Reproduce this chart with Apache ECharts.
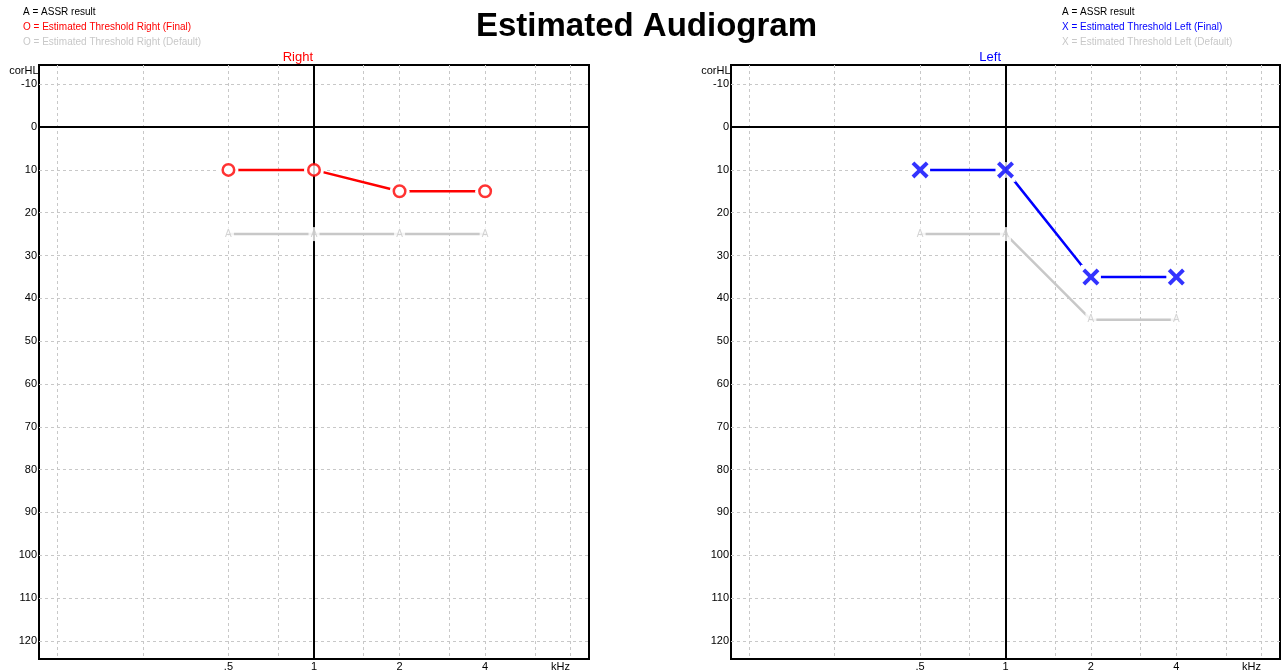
<!DOCTYPE html>
<html><head><meta charset="utf-8">
<script src="https://cdn.jsdelivr.net/npm/echarts@6/dist/echarts.min.js"></script>
<style>html,body{margin:0;padding:0;background:#fff}#c{width:1282px;height:672px}</style>
</head><body><div id="c"></div>
<script>
// ---- data ----
const freqs = [500, 1000, 2000, 4000];            // Hz
const freqLabels = ['.5', '1', '2', '4'];
const rightFinal = [10, 10, 15, 15];              // dB corHL (O)
const rightDefault = [25, 25, 25, 25];            // dB corHL (A, grey)
const leftFinal = [10, 10, 35, 35];               // dB corHL (X)
const leftDefault = [25, 25, 45, 45];             // dB corHL (A, grey)
const gridFreqs = [125, 250, 500, 750, 1000, 1500, 2000, 3000, 4000, 6000, 8000];
const dbTicks = [-10, 0, 10, 20, 30, 40, 50, 60, 70, 80, 90, 100, 110, 120];
const unitLabel = 'kHz';

// ---- helpers ----
const oct = f => Math.log2(f / 1000);   // octaves relative to 1 kHz
const KHZ_POS = 2.88;
const FONT = '"Liberation Sans", Arial, sans-serif';
const RED = '#ff0000', BLUE = '#0000ff', GREY = '#c8c8c8';
const X_PATH = 'path://M0,2.6L2.6,0L8,5.4L13.4,0L16,2.6L10.6,8L16,13.4L13.4,16L8,10.6L2.6,16L0,13.4L5.4,8Z';

const labelMap = {};
freqs.forEach((f, i) => { labelMap[oct(f).toFixed(3)] = freqLabels[i]; });
labelMap[KHZ_POS.toFixed(3)] = unitLabel;

const pts = vals => freqs.map((f, i) => [oct(f), vals[i]]);

function xAxis(idx) {
  return {
    gridIndex: idx, type: 'value', min: -3.214, max: 3.214,
    axisLine: {show: false}, axisTick: {show: false}, splitLine: {show: false},
    axisLabel: {
      customValues: freqs.map(oct).concat([KHZ_POS]),
      formatter: v => labelMap[Number(v).toFixed(3)] || '',
      margin: 2, fontSize: 11, color: '#000', fontFamily: FONT
    }
  };
}
function yAxis(idx) {
  return {
    gridIndex: idx, type: 'value', inverse: true, min: -14.5, max: 124.25,
    axisLine: {show: false}, axisTick: {show: false}, splitLine: {show: false},
    axisLabel: {customValues: dbTicks, margin: 2, fontSize: 11, color: '#000', fontFamily: FONT}
  };
}

function earSeries(idx, finalVals, defVals, color, isLeft) {
  const base = {xAxisIndex: idx, yAxisIndex: idx, animation: false, silent: true};
  const list = [];
  // dashed grid
  list.push(Object.assign({}, base, {
    type: 'line', data: [], z: 1,
    markLine: {
      z: 1, silent: true, symbol: ['none', 'none'], label: {show: false}, animation: false,
      lineStyle: {color: GREY, type: [3, 3], width: 1},
      data: gridFreqs.map(f => ({xAxis: oct(f)})).concat(dbTicks.map(d => ({yAxis: d})))
    }
  }));
  // default line (grey)
  list.push(Object.assign({}, base, {
    type: 'line', data: pts(defVals), symbol: 'none', z: 2,
    lineStyle: {color: GREY, width: 2.5}
  }));
  // final line
  list.push(Object.assign({}, base, {
    type: 'line', data: pts(finalVals), symbol: 'none', z: 2,
    lineStyle: {color: color, width: 2.5}
  }));
  // masks creating gaps in lines around final markers
  list.push(Object.assign({}, base, {
    type: 'scatter', data: pts(finalVals),
    symbol: isLeft ? 'rect' : 'circle', symbolSize: isLeft ? [20, 24] : 20, z: 3,
    itemStyle: {color: '#fff', opacity: 1}
  }));
  // reference black lines (0 dB, 1 kHz)
  list.push(Object.assign({}, base, {
    type: 'line', data: [], z: 4,
    markLine: {
      z: 4, silent: true, symbol: ['none', 'none'], label: {show: false}, animation: false,
      lineStyle: {color: '#000', type: 'solid', width: 2},
      data: [{xAxis: oct(1000)}, {yAxis: 0}]
    }
  }));
  // A markers (default)
  list.push(Object.assign({}, base, {
    type: 'scatter', data: pts(defVals), symbol: 'rect', symbolSize: [11, 14], z: 5,
    itemStyle: {color: '#fff'},
    label: {show: true, position: 'inside', formatter: 'A', color: GREY, fontSize: 10, fontFamily: FONT}
  }));
  if (isLeft) {
    list.push(Object.assign({}, base, {
      type: 'scatter', data: pts(finalVals), symbol: 'circle', symbolSize: 16, z: 5,
      itemStyle: {color: '#fff'}
    }));
    list.push(Object.assign({}, base, {
      type: 'scatter', data: pts(finalVals), symbol: X_PATH, symbolSize: 17, z: 6,
      itemStyle: {color: color}
    }));
  } else {
    list.push(Object.assign({}, base, {
      type: 'scatter', data: pts(finalVals), symbol: 'circle', symbolSize: 11.5, z: 6,
      itemStyle: {color: '#fff', borderColor: color, borderWidth: 2.5}
    }));
  }
  return list;
}

function txt(x, y, text, font, fill, align) {
  return {type: 'text', x: x, y: y, silent: true, z: 10,
    style: {text: text, font: font, fill: fill, align: align || 'left', verticalAlign: 'middle'}};
}
const smallFont = '10px ' + FONT;

const chart = echarts.init(document.getElementById('c'), null, {renderer: 'canvas'});
chart.setOption({
  animation: false,
  backgroundColor: '#fff',
  grid: [
    {left: 39, top: 65, width: 550, height: 595, show: true, borderColor: '#000', borderWidth: 2, backgroundColor: '#fff'},
    {left: 731, top: 65, width: 549, height: 595, show: true, borderColor: '#000', borderWidth: 2, backgroundColor: '#fff'}
  ],
  xAxis: [xAxis(0), xAxis(1)],
  yAxis: [yAxis(0), yAxis(1)],
  series: earSeries(0, rightFinal, rightDefault, RED, false)
    .concat(earSeries(1, leftFinal, leftDefault, BLUE, true)),
  graphic: [
    txt(646.5, 27, 'Estimated Audiogram', 'bold 33px ' + FONT, '#000', 'center'),
    txt(23, 12.6, 'A = ASSR result', smallFont, '#000'),
    txt(23, 27, 'O = Estimated Threshold Right (Final)', smallFont, RED),
    txt(23, 42, 'O = Estimated Threshold Right (Default)', smallFont, GREY),
    txt(1062, 12.6, 'A = ASSR result', smallFont, '#000'),
    txt(1062, 27, 'X = Estimated Threshold Left (Final)', smallFont, BLUE),
    txt(1062, 42, 'X = Estimated Threshold Left (Default)', smallFont, GREY),
    txt(313, 57.7, 'Right', '13px ' + FONT, RED, 'right'),
    txt(1001, 57.7, 'Left', '13px ' + FONT, BLUE, 'right'),
    txt(38.5, 70.5, 'corHL', '11px ' + FONT, '#000', 'right'),
    txt(730.5, 70.5, 'corHL', '11px ' + FONT, '#000', 'right')
  ]
});
</script>
</body></html>
